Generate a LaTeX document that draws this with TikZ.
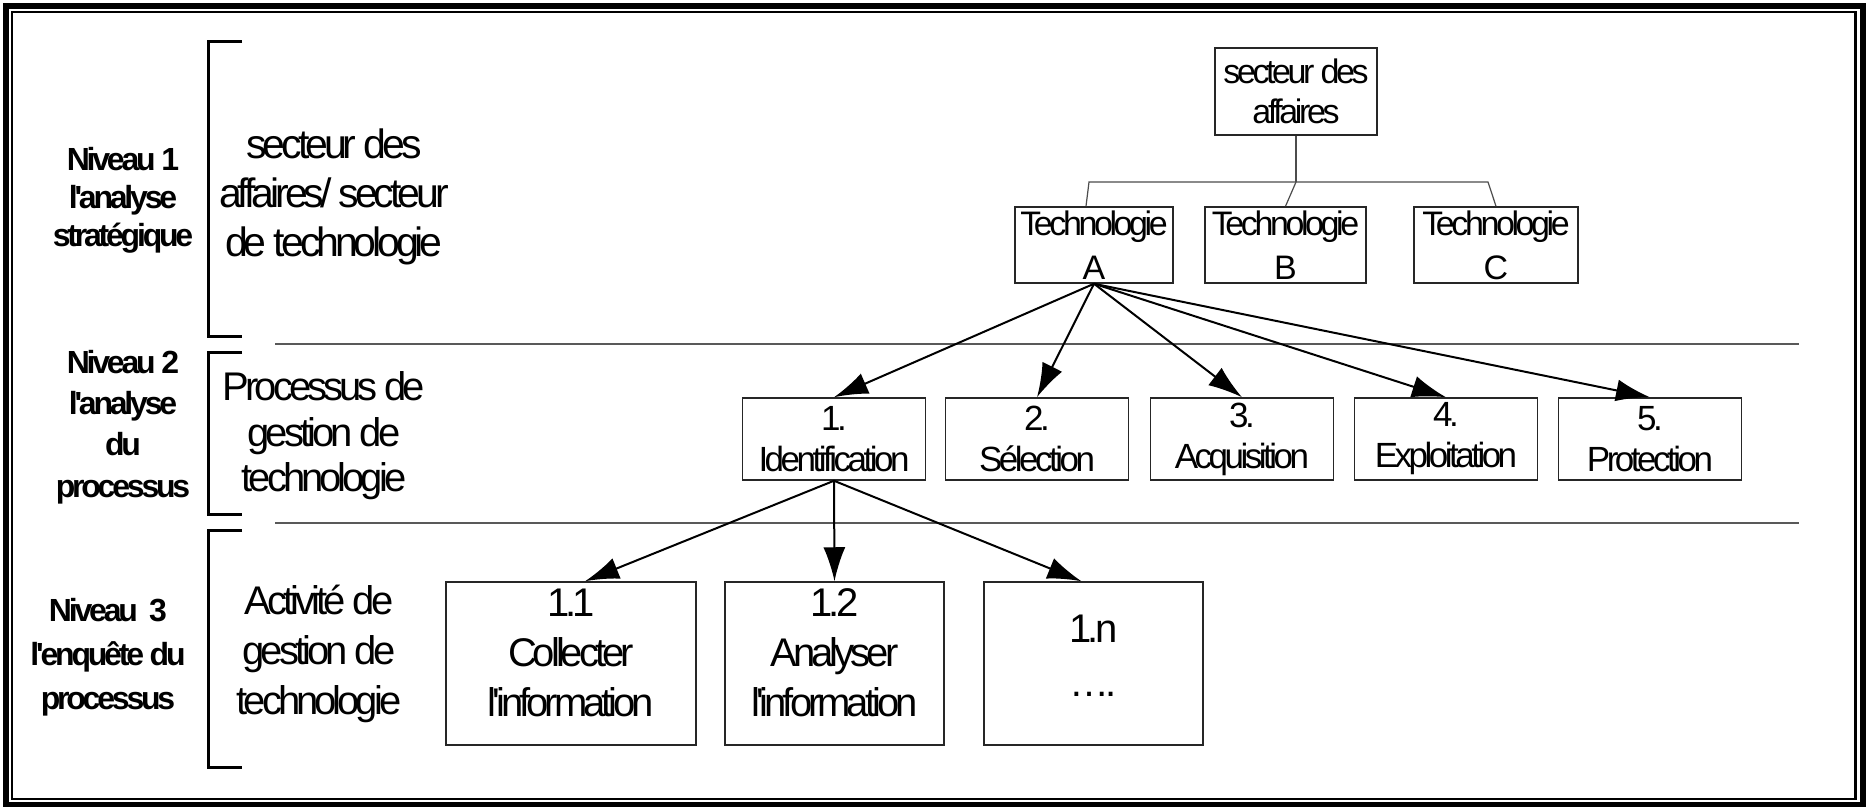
\documentclass[tikz,border=0pt]{standalone}
\usepackage{fontspec}
\newfontfamily\lsans{Liberation Sans}[LetterSpace=-10,Ligatures=CommonOff]
\usetikzlibrary{arrows.meta}
\begin{document}
\begin{tikzpicture}[x=0.5pt,y=-0.5pt,
  frameout/.style={line width=2.75pt},
  framein/.style={line width=1.1pt},
  brk/.style={line width=1.5pt, line join=miter},
  sepline/.style={draw=black!65, line width=0.75pt},
  lvl/.style={align=center, inner sep=0pt, text=black},
  midlab/.style={align=center, inner sep=0pt},
  box/.style={draw=black!85, line width=0.75pt, inner sep=0pt, align=center},
  techbox/.style={box, minimum width=#1, minimum height=38pt,
    font=\lsans\fontsize{17}{22}\selectfont},
  l2box/.style={box, minimum width=91.5pt, minimum height=41pt,
    font=\lsans\fontsize{17.5}{20.5}\selectfont},
  l3box/.style={box, minimum height=81.5pt},
  tree/.style={draw=black!70, line width=0.6pt},
  arr/.style={line width=1pt, -{Latex[length=17pt,width=11pt]}}
]
\useasboundingbox (0,0) rectangle (1874,808);
% frame
\draw[frameout] (5.8,5.8) rectangle (1863,804.5);
\draw[framein] (12.2,12.2) rectangle (1855.5,798.7);
% brackets
\draw[brk] (242,42) -| (208,336) -- (242,336);
\draw[brk] (242,352) -| (208,514) -- (242,514);
\draw[brk] (242,530) -| (208,767) -- (242,767);
% separators
\draw[sepline] (275,344) -- (1799,344);
\draw[sepline] (275,523) -- (1799,523);
% level labels
\node[lvl, font=\lsans\bfseries\fontsize{16}{19}\selectfont] (n1) at (123,200) {Niveau 1\\l'analyse\\stratégique};
\node[lvl, font=\lsans\bfseries\fontsize{16}{20.7}\selectfont] (n2) at (123,427) {Niveau 2\\l'analyse\\du\\processus};
\node[lvl, font=\lsans\bfseries\fontsize{16}{22}\selectfont] (n3) at (108,657) {Niveau\ \ 3\\l'enquête du\\processus};
% middle labels
\node[midlab, font=\lsans\fontsize{20.5}{24.5}\selectfont] (m1) at (334,197) {secteur des\\affaires/ secteur\\de technologie};
\node[midlab, font=\lsans\fontsize{20}{22.7}\selectfont] (m2) at (324,436) {Processus de\\gestion de\\technologie};
\node[midlab, font=\lsans\fontsize{20}{25}\selectfont] (m3) at (319,654) {Activité de\\gestion de\\technologie};
% level 1 tree
\node[box, minimum width=81pt, minimum height=43.5pt, font=\lsans\fontsize{17}{20}\selectfont] (sect) at (1296,91.5) {secteur des\\affaires};
\node[techbox=79pt] (techA) at (1094,245) {Technologie\\A};
\node[techbox=80.5pt] (techB) at (1285.5,245) {Technologie\\B};
\node[techbox=82pt] (techC) at (1496,245) {Technologie\\C};
\coordinate (barA) at (1089,182);
\coordinate (barM) at (1296,182);
\coordinate (barC) at (1488,182);
\draw[tree] (sect.south) -- (barM);
\draw[tree] ([xshift=-4pt]techA.north) -- (barA) -- (barC) -- (techC.north);
\draw[tree] (barM) -- (techB.north);
% level 2
\node[l2box] (b1) at (834,439) {1.\\Identification};
\node[l2box] (b2) at (1037,439) {2.\\Sélection};
\node[l2box] (b3) at (1242,439) {3.\\Acquisition};
\node[l2box] (b4) at (1446,439) {4.\\Exploitation};
\node[l2box] (b5) at (1650,439) {5.\\Protection};
\foreach \b in {b1,b2,b3,b4,b5}{\draw[arr] (techA.south) -- (\b.north);}
% level 3
\node[l3box, minimum width=125pt, text depth=11pt, font=\lsans\fontsize{20}{25}\selectfont] (c1) at (571,663.5) {1.1\\Collecter\\l'information};
\node[l3box, minimum width=109.5pt, text depth=11pt, font=\lsans\fontsize{20}{25}\selectfont] (c2) at (834.5,663.5) {1.2\\Analyser\\l'information};
\node[l3box, minimum width=109.5pt, text depth=8pt, font=\lsans\fontsize{20}{27}\selectfont] (c3) at (1093.5,663.5) {1.n\\….};
\draw[arr] (b1.south) -- ([xshift=7pt]c1.north);
\draw[arr] (b1.south) -- (c2.north);
\draw[arr] (b1.south) -- ([xshift=-6pt]c3.north);
\end{tikzpicture}
\end{document}
